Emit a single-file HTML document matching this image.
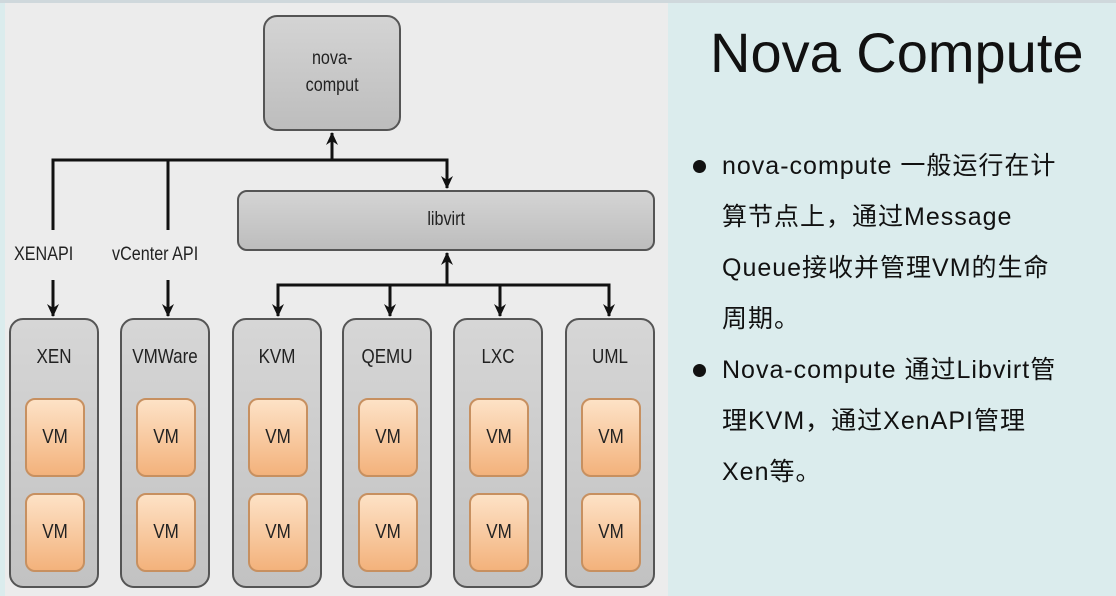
<!DOCTYPE html>
<html><head><meta charset="utf-8"><style>
body{margin:0;width:1116px;height:596px;position:relative;overflow:hidden;background:#dbeced;font-family:"Liberation Sans","Noto Sans CJK SC",sans-serif}
.left{position:absolute;left:5px;top:3px;width:663px;height:593px;background:#ececec}
.top{position:absolute;left:0;top:0;width:1116px;height:3px;background:#cfd8dc}
.box{position:absolute;border:2px solid #555;border-radius:14px;background:linear-gradient(#d4d4d4,#bdbdbd);box-sizing:border-box;display:flex;align-items:center;justify-content:center;font-size:19px;color:#222;text-align:center;line-height:1.4}
.col{position:absolute;top:318px;height:270px;border:2px solid #555;border-radius:14px;background:linear-gradient(#d6d6d6,#c2c2c2);box-sizing:border-box;width:90px}
.col .t{position:absolute;top:26px;width:100%;text-align:center;font-size:20px;color:#222;transform:scaleX(0.85)}
.vm{position:absolute;left:14px;width:60px;height:79px;border:2px solid #c79060;border-radius:10px;background:linear-gradient(#fde2c6,#f3b27c);box-sizing:border-box;display:flex;align-items:center;justify-content:center;font-size:20px;color:#222}
.vm span,.box span{display:inline-block;transform:scaleX(0.85)}
.lbl{position:absolute;font-size:19px;color:#222;transform:scaleX(0.85);transform-origin:left}
h1{position:absolute;left:710px;top:20px;margin:0;font-weight:normal;font-size:56px;color:#111}
.txt{position:absolute;left:722px;top:141px;font-size:25px;letter-spacing:1px;line-height:51px;color:#111;width:390px;white-space:nowrap}
.dot{position:absolute;width:13px;height:13px;border-radius:50%;background:#111;left:693px}
</style></head><body>
<div class="top"></div>
<div class="left"></div>
<div class="box" style="left:263px;top:15px;width:138px;height:116px"><span>nova-<br>comput</span></div>
<div class="box" style="left:237px;top:190px;width:418px;height:61px;border-radius:10px"><span>libvirt</span></div>
<svg width="1116" height="596" style="position:absolute;left:0;top:0">
<defs><marker id="a" markerWidth="14" markerHeight="14" refX="12" refY="6" orient="auto" markerUnits="userSpaceOnUse"><path d="M0,0 L13,6 L0,12 L4,6z" fill="#111"/></marker></defs>
<g stroke="#111" stroke-width="3" fill="none">
<path d="M53,230 V160 H447 V188" marker-end="url(#a)"/>
<path d="M168,230 V160"/>
<path d="M332,160 V133" marker-end="url(#a)"/>
<path d="M53,280 V316" marker-end="url(#a)"/>
<path d="M168,280 V316" marker-end="url(#a)"/>
<path d="M447,285 V253" marker-end="url(#a)"/>
<path d="M278,316 V285 H609 V316" marker-end="url(#a)"/>
<path d="M278,285 V316" marker-end="url(#a)"/>
<path d="M390,285 V316" marker-end="url(#a)"/>
<path d="M500,285 V316" marker-end="url(#a)"/>
</g></svg>
<div class="lbl" style="left:14px;top:244px">XENAPI</div>
<div class="lbl" style="left:112px;top:244px">vCenter API</div>
<div class="col" style="left:9px"><div class="t">XEN</div><div class="vm" style="top:78px"><span>VM</span></div><div class="vm" style="top:173px"><span>VM</span></div></div>
<div class="col" style="left:120px"><div class="t">VMWare</div><div class="vm" style="top:78px"><span>VM</span></div><div class="vm" style="top:173px"><span>VM</span></div></div>
<div class="col" style="left:232px"><div class="t">KVM</div><div class="vm" style="top:78px"><span>VM</span></div><div class="vm" style="top:173px"><span>VM</span></div></div>
<div class="col" style="left:342px"><div class="t">QEMU</div><div class="vm" style="top:78px"><span>VM</span></div><div class="vm" style="top:173px"><span>VM</span></div></div>
<div class="col" style="left:453px"><div class="t">LXC</div><div class="vm" style="top:78px"><span>VM</span></div><div class="vm" style="top:173px"><span>VM</span></div></div>
<div class="col" style="left:565px"><div class="t">UML</div><div class="vm" style="top:78px"><span>VM</span></div><div class="vm" style="top:173px"><span>VM</span></div></div>
<h1>Nova Compute</h1>
<div class="dot" style="top:160px"></div>
<div class="dot" style="top:364px"></div>
<div class="txt">nova-compute 一般运行在计<br>算节点上，通过Message<br>Queue接收并管理VM的生命<br>周期。<br>Nova-compute 通过Libvirt管<br>理KVM，通过XenAPI管理<br>Xen等。</div>
</body></html>
